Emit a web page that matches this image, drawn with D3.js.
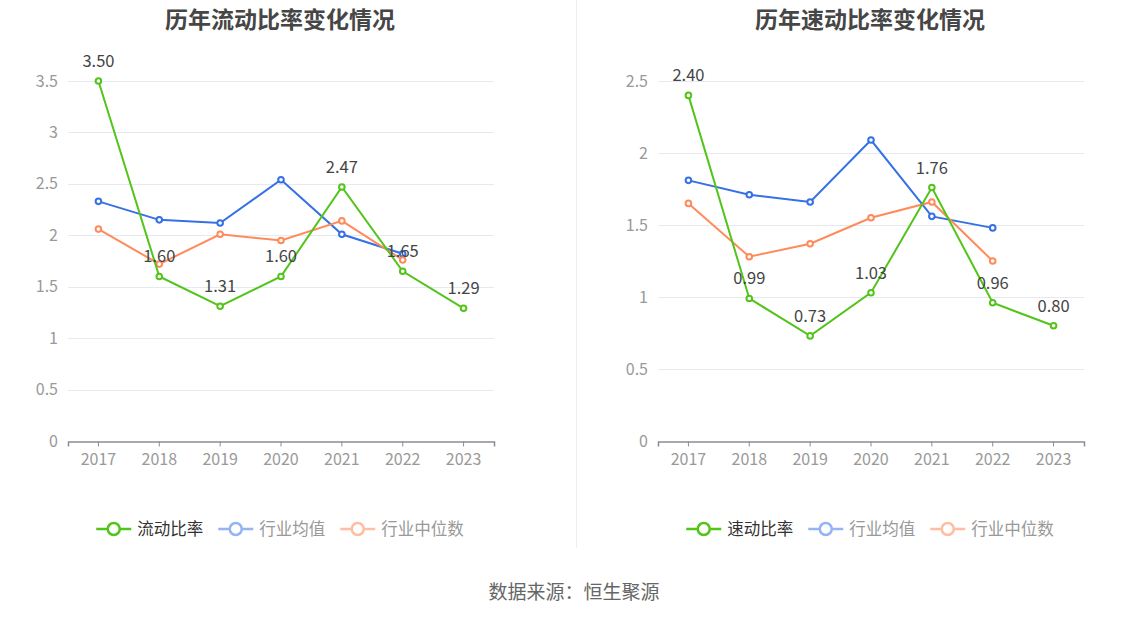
<!DOCTYPE html>
<html>
<head>
<meta charset="utf-8">
<script src="https://cdn.jsdelivr.net/npm/d3@7"></script>
<style>
  body { margin: 0; background: #fff; font-family: "Noto Sans CJK SC", "Noto Sans", sans-serif; }
</style>
</head>
<body>
<div id="chart"></div>
<script>
const width = 1148;
const height = 619;

const years = ['2017', '2018', '2019', '2020', '2021', '2022', '2023'];
const current_ratio = [3.50, 1.60, 1.31, 1.60, 2.47, 1.65, 1.29];
const current_avg = [2.33, 2.15, 2.12, 2.54, 2.01, 1.82];
const current_median = [2.06, 1.72, 2.01, 1.95, 2.14, 1.76];
const quick_ratio = [2.40, 0.99, 0.73, 1.03, 1.76, 0.96, 0.80];
const quick_avg = [1.81, 1.71, 1.66, 2.09, 1.56, 1.48];
const quick_median = [1.65, 1.28, 1.37, 1.55, 1.66, 1.25];
const current_ticks = [0, 0.5, 1, 1.5, 2, 2.5, 3, 3.5];
const quick_ticks = [0, 0.5, 1, 1.5, 2, 2.5];

const colors = { main: '#52c41a', avg: '#3470e6', median: '#ff8a5a' };
const faded = { main: '#52c41a', avg: '#94b4f3', median: '#ffbea3' };
const font = '"Noto Sans CJK SC", "Noto Sans", sans-serif';

const svg = d3.select('#chart')
  .append('svg')
    .attr('width', width)
    .attr('height', height)
    .attr('font-family', font);

// divider + source
svg.append('line')
  .attr('x1', 576.5).attr('x2', 576.5)
  .attr('y1', 0).attr('y2', 548)
  .attr('stroke', '#eeeeee');

svg.append('text')
  .attr('x', 574).attr('y', 599)
  .attr('text-anchor', 'middle')
  .attr('font-size', 19)
  .attr('fill', '#666')
  .text('数据来源：恒生聚源');

let draw_panel = (opts) => {
  const g = svg.append('g');
  const x = d3.scaleBand().domain(years).range([opts.left, opts.left + 426]);
  const y = d3.scaleLinear().domain([0, opts.max]).range([441, 81]);
  const center = opts.left + 212;

  g.append('text')
    .attr('x', center).attr('y', 28)
    .attr('text-anchor', 'middle')
    .attr('font-size', 23)
    .attr('font-weight', 'bold')
    .attr('fill', '#464646')
    .text(opts.title);

  // grid
  g.selectAll('.grid')
      .data(opts.ticks.filter(d => d > 0))
    .join('line')
      .attr('class', 'grid')
      .attr('x1', x.range()[0]).attr('x2', x.range()[1])
      .attr('y1', d => Math.round(y(d)) + 0.5).attr('y2', d => Math.round(y(d)) + 0.5)
      .attr('stroke', '#e6e9f2');

  // y labels
  g.selectAll('.ylab')
      .data(opts.ticks)
    .join('text')
      .attr('class', 'ylab')
      .attr('x', opts.left - 10)
      .attr('y', d => y(d) + 5.5)
      .attr('text-anchor', 'end')
      .attr('font-size', 16)
      .attr('fill', '#999')
      .text(d => d);

  // x axis
  const xa = g.append('g')
    .attr('transform', 'translate(0,441.5)')
    .call(d3.axisBottom(x).tickSize(5).tickPadding(7));
  xa.attr('font-family', font).attr('font-size', 16);
  xa.select('.domain').attr('stroke', '#8c8c96').attr('stroke-width', 1.5);
  xa.selectAll('.tick line').attr('stroke', '#8c8c96');
  xa.selectAll('.tick text')
    .attr('font-size', 16)
    .attr('fill', '#999');

  const cx = (d, i) => x(years[i]) + x.bandwidth() / 2;
  const line = d3.line().x((d, i) => cx(d, i)).y(d => y(d));

  const series = [
    { key: 'avg', values: opts.avg },
    { key: 'median', values: opts.median },
    { key: 'main', values: opts.main }
  ];
  series.forEach(s => {
    g.append('path')
      .datum(s.values)
      .attr('d', line)
      .attr('fill', 'none')
      .attr('stroke', colors[s.key])
      .attr('stroke-width', 2);
    g.selectAll('.pt-' + s.key)
        .data(s.values)
      .join('circle')
        .attr('class', 'pt-' + s.key)
        .attr('cx', cx)
        .attr('cy', d => y(d))
        .attr('r', 2.8)
        .attr('fill', '#fff')
        .attr('stroke', colors[s.key])
        .attr('stroke-width', 2);
  });

  g.selectAll('.vlab')
      .data(opts.main)
    .join('text')
      .attr('class', 'vlab')
      .attr('x', cx)
      .attr('y', d => y(d) - 14)
      .attr('text-anchor', 'middle')
      .attr('font-size', 16.5)
      .attr('fill', '#444')
      .text(d => d.toFixed(2));

  // legend
  const legend = [
    { key: 'main', label: opts.name },
    { key: 'avg', label: '行业均值' },
    { key: 'median', label: '行业中位数' }
  ];
  const lgroup = g.append('g');
  let lx = 0;
  legend.forEach((l, i) => {
    const lg = lgroup.append('g').attr('transform', `translate(${lx},529)`);
    lg.append('line')
      .attr('x1', 0).attr('x2', 35)
      .attr('stroke', faded[l.key]).attr('stroke-width', 2.5);
    lg.append('circle')
      .attr('cx', 17.5).attr('r', 6)
      .attr('fill', '#fff')
      .attr('stroke', faded[l.key]).attr('stroke-width', 2.5);
    const t = lg.append('text')
      .attr('x', 41).attr('y', 6)
      .attr('font-size', 16.5)
      .attr('fill', i === 0 ? '#333' : '#999')
      .text(l.label);
    lx += 41 + t.node().getComputedTextLength() + (i < legend.length - 1 ? 15 : 0);
  });
  lgroup.attr('transform', `translate(${center - lx / 2},0)`);
};

draw_panel({
  left: 68, max: 3.5, ticks: current_ticks, title: '历年流动比率变化情况',
  name: '流动比率', main: current_ratio, avg: current_avg, median: current_median
});
draw_panel({
  left: 658, max: 2.5, ticks: quick_ticks, title: '历年速动比率变化情况',
  name: '速动比率', main: quick_ratio, avg: quick_avg, median: quick_median
});
</script>
</body>
</html>
